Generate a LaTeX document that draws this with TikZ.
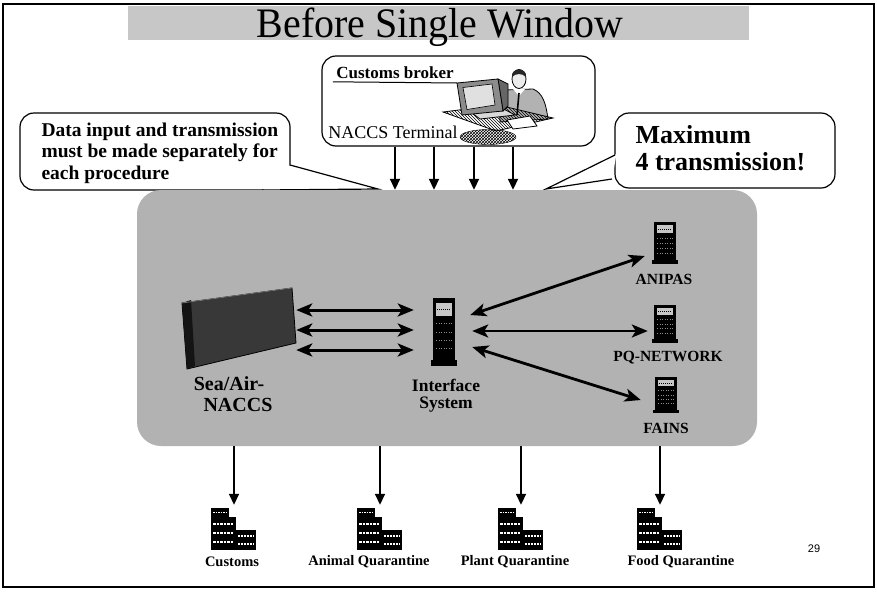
\documentclass[tikz,border=0pt]{standalone}
\usepackage{fontspec}
\setmainfont{Liberation Serif}
\setsansfont{Liberation Sans}
\usetikzlibrary{arrows.meta,calc,patterns}
\begin{document}
\begin{tikzpicture}[x=1pt,y=-1pt,
  halftone/.style={fill=black!30},
  callout/.style={draw,line width=1.2pt,rounded corners=14pt,fill=white},
  dn/.style={line width=1.8pt,-{Triangle[length=11pt,width=10pt]}},
  dbl/.style={line width=3pt,{Stealth[length=16pt,width=13pt,inset=4pt]}-{Stealth[length=16pt,width=13pt,inset=4pt]}},
  lbl/.style={font=\bfseries\fontsize{15.5}{17}\selectfont},
  bldlbl/.style={font=\bfseries\fontsize{14.5}{16}\selectfont},
  server/.pic={
    \fill[black] (-11,-21) rectangle (11,18);
    \fill[black] (-13,17) rectangle (13,21);
    \fill[black!22] (-8,-18) rectangle (8,-10);
    \draw[black,line width=0.8pt,dash pattern=on 1pt off 1pt] (-7,-14) -- (7,-14);
    \draw[black!45,line width=0.9pt,dash pattern=on 1pt off 1.5pt]
      (-8,-5) -- (8,-5) (-8,0) -- (8,0) (-8,5) -- (8,5) (-8,10) -- (8,10);
  },
  building/.pic={
    \fill[black] (-23,-21) rectangle (-5,-12);
    \draw[white,line width=1.4pt,dash pattern=on 1.5pt off 1pt] (-21,-16.5) -- (-8,-16.5);
    \fill[black] (-23,-12) rectangle (2,21);
    \draw[white,line width=2.2pt,dash pattern=on 2.5pt off 1pt]
      (-21,-5) -- (0,-5) (-21,4) -- (0,4) (-21,13) -- (0,13);
    \fill[black] (2,1) rectangle (22,21);
    \draw[white,line width=2pt,dash pattern=on 2pt off 1pt]
      (4,7) -- (20,7) (4,15) -- (20,15);
  }]
\useasboundingbox (0,0) rectangle (877,592);

% outer frame
\draw[line width=1.4pt] (3,4) rectangle (874,587);

% title band
\fill[black!22] (128,6) rectangle (749,40);
\node[anchor=base,xscale=0.95,font=\fontsize{42}{46}\selectfont] (title) at (440,37) {Before Single Window};

% customs broker box
\node[draw,line width=1.2pt,rounded corners=14pt,minimum width=273pt,minimum height=90pt] (broker) at (458.5,101) {};
\node[font=\bfseries\fontsize{17}{19}\selectfont] (cb) at (395,73) {Customs broker};
\coordinate (mon) at (457,83);
\draw[line width=1pt] ($(cb.base west)+(0,3)$) -- (mon);
\node[font=\fontsize{18}{20}\selectfont] (term) at (393,132) {NACCS Terminal};

% the broker at his terminal
\draw[pattern=crosshatch] (488,137) ellipse [x radius=28, y radius=7.5];
\filldraw[fill=black!30,line width=0.8pt] (505,90) -- (533,89) .. controls (543,93) and (546,104) .. (548,119) -- (500,122) .. controls (499,107) and (500,95) .. (505,90) -- cycle;
\fill[white] (513,89) -- (525,89) -- (519,96) -- cycle;
\draw[line width=1.6pt] (519,93) -- (517,115);
\filldraw[fill=black!8,line width=0.8pt] (519,79) ellipse [x radius=7, y radius=9.5];
\fill[black!85] (512,77) .. controls (510.5,67) and (527.5,67) .. (526,77) .. controls (522,73) and (516,73) .. (512,77) -- cycle;
\draw[pattern=north west lines,line width=0.8pt] (443,112) -- (498,105) -- (553,118) -- (496,131) -- cycle;
\filldraw[fill=black!15,line width=0.8pt] (468,110) -- (500,107) -- (515,115) -- (480,119) -- cycle;
\filldraw[fill=black!60,line width=0.8pt] (498,79) -- (508,84) -- (508,106) -- (503,111) -- cycle;
\filldraw[fill=black!45,line width=0.8pt] (457,83) -- (498,79) -- (503,111) -- (462,115) -- cycle;
\filldraw[fill=black!12,line width=0.6pt] (463,87.5) -- (492,84) -- (495,105) -- (467,109.5) -- cycle;
\filldraw[fill=white,line width=0.8pt] (507,120) -- (530,116) -- (537,126) -- (513,129) -- cycle;

% left callout
\draw[callout] (20,113) rectangle (290,190);
\fill[white] (291.5,164) -- (378,189) -- (262,191) -- cycle;
\draw[line width=1.2pt,line join=miter] (290,165) -- (378,189) -- (262,190);
\node[anchor=west,align=left,font=\bfseries\fontsize{19.5}{21.5}\selectfont] (cl) at (38,153)
  {Data input and transmission\\must be made separately for\\each procedure};

% right callout
\draw[callout] (615,113) rectangle (835,188);
\fill[white] (616.5,154) -- (546,189) -- (612,179) -- cycle;
\draw[line width=1.2pt,line join=miter] (615,155) -- (546,189) -- (612,179);
\node[anchor=west,align=left,font=\bfseries\fontsize{26}{27}\selectfont] (cr) at (632,148)
  {Maximum\\4 transmission!};

% shaded system panel
\node[halftone,rounded corners=24pt,minimum width=620pt,minimum height=256pt] (panel) at (447,318) {};

% four separate transmissions from the terminal
\foreach \dx [count=\i] in {-63.5,-24.5,15.5,54.5} {
  \coordinate (t\i) at ($(broker.south)+(\dx,0)$);
  \draw[dn] (t\i) -- (t\i |- panel.north);
}

% Sea/Air-NACCS host
\node[minimum width=116pt,minimum height=80pt] (sea) at (238,328) {};
\filldraw[fill=black!78,line width=0.8pt] (182,303) -- (292,288) -- (296,343) -- (187,369) -- cycle;
\fill[black!92] (182,303) -- (191,300) -- (195,366) -- (187,369) -- cycle;
\draw[black!55,line width=0.8pt] (182,303) -- (292,288);
\node[font=\bfseries\fontsize{20}{22}\selectfont] (seal1) at (229,384) {Sea/Air-};
\node[font=\bfseries\fontsize{20}{22}\selectfont] (seal2) at (238,405) {NACCS};

% interface system
\node[minimum width=52pt,minimum height=70pt] (iface) at (444,332) {};
\pic[yscale=1.62] at (444,332) {server};
\node[font=\bfseries\fontsize{17.5}{19}\selectfont] (ifl1) at (446,385) {Interface};
\node[font=\bfseries\fontsize{17.5}{19}\selectfont] (ifl2) at (446,405) {System};

% quarantine systems
\node[minimum width=40pt,minimum height=42pt] (anipas) at (665,243) {};
\pic at (anipas) {server};
\node[lbl] (anl) at (664,279) {ANIPAS};
\node[minimum width=40pt,minimum height=40pt] (pq) at (665,324) {};
\pic[yscale=0.9] at (pq) {server};
\node[lbl] (pql) at (668,358) {PQ-NETWORK};
\node[minimum width=40pt,minimum height=38pt] (fains) at (666,395) {};
\pic[yscale=0.86] at (fains) {server};
\node[lbl] (fal) at (666,428) {FAINS};

% links
\draw[dbl] ($(sea.east)+(0,-18)$) -- ($(iface.west)+(-4,-22)$);
\draw[dbl] ($(sea.east)+(0,2)$) -- ($(iface.west)+(-4,-2)$);
\draw[dbl] ($(sea.east)+(0,22)$) -- ($(iface.west)+(-4,18)$);
\draw[dbl,line width=2.8pt] ($(iface.east)+(0,-17)$) -- ($(anipas.west)+(0,13)$);
\draw[dbl,line width=2.8pt] ($(iface.east)+(2,-1)$) -- ($(pq.west)+(3,7)$);
\draw[dbl,line width=2.8pt] ($(iface.east)+(2,15)$) -- ($(fains.west)+(-5,5)$);

% ministries
\node[minimum width=46pt,minimum height=42pt] (bcus) at (234,529) {};
\node[minimum width=46pt,minimum height=42pt] (bani) at (380,529) {};
\node[minimum width=46pt,minimum height=42pt] (bpla) at (521,529) {};
\node[minimum width=46pt,minimum height=42pt] (bfoo) at (660,529) {};
\foreach \b in {bcus,bani,bpla,bfoo} {
  \pic at (\b) {building};
  \draw[dn,line width=1.6pt] (panel.south -| \b.north) -- ($(\b.north)+(0,-3)$);
}
\node[bldlbl] (lcus) at (232,562) {Customs};
\node[bldlbl] (lani) at (369,562) {Animal Quarantine};
\node[bldlbl] (lpla) at (515,562) {Plant Quarantine};
\node[bldlbl] (lfoo) at (681,562) {Food Quarantine};

% page number
\node[font=\sffamily\fontsize{11}{12}\selectfont] (pg) at (814,549) {29};
\end{tikzpicture}
\end{document}
